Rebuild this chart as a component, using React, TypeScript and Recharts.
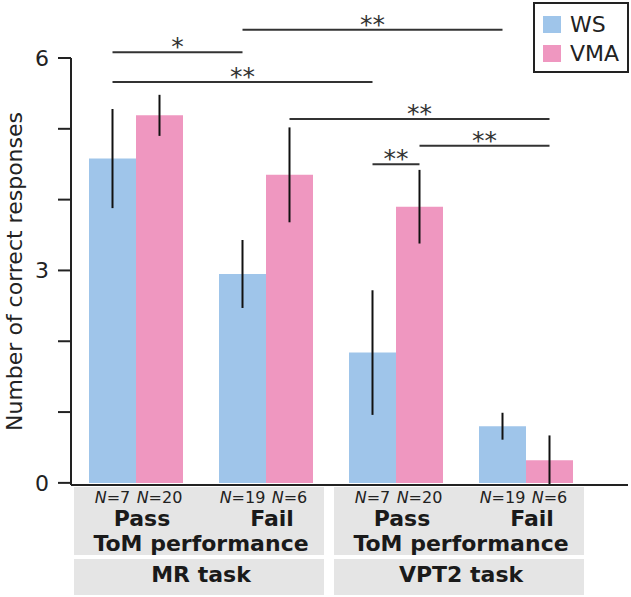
import React from 'react';
import { BarChart, Bar, XAxis, YAxis, ErrorBar, ReferenceLine, Legend } from 'recharts';

// ---- data ----
const groups = ['Pass', 'Fail', 'Pass', 'Fail'];
const tasks = ['MR task', 'VPT2 task'];
const wsMeans = [4.58, 2.95, 1.84, 0.8];
const wsErrs = [0.7, 0.48, 0.88, 0.19];
const vmaMeans = [5.19, 4.35, 3.9, 0.32];
const vmaErrs = [0.29, 0.67, 0.52, 0.35];
const wsN = [7, 19, 7, 19];
const vmaN = [20, 6, 20, 6];
const yTicks = [0, 1, 2, 3, 4, 5, 6];
const yTickLabels = ['0', '', '', '3', '', '', '6'];
const seriesNames = ['WS', 'VMA'];
const tomLabel = 'ToM performance';
const yLabel = 'Number of correct responses';

// significance brackets: [group, series(0=WS,1=VMA)] -> [group, series], level, stars
const sigFrom = [[0, 0], [1, 0], [0, 0], [1, 1], [2, 1], [2, 0]];
const sigTo = [[1, 0], [3, 0], [2, 0], [3, 1], [3, 1], [2, 1]];
const sigLevels = [6.08, 6.4, 5.66, 5.14, 4.76, 4.5];
const sigStars = ['*', '**', '**', '**', '**', '**'];

// ---- layout constants ----
const BAND = 130;
const GAP = 18;
const BAR = 47;
const FONT = 'DejaVu Sans';
const WS_COLOR = '#9fc5ea';
const VMA_COLOR = '#ef97c0';

const chartData = groups.map((g, i) => ({
  group: g,
  key: `${g}-${i}`,
  ws: wsMeans[i],
  wsErr: wsErrs[i],
  vma: vmaMeans[i],
  vmaErr: vmaErrs[i],
  wsN: wsN[i],
  vmaN: vmaN[i],
  task: tasks[Math.floor(i / 2)],
}));

// offset of a series' bar centre from its category centre
const seriesOffset = (s: number) => (s === 0 ? -BAR / 2 : BAR / 2);

const CatTick = (props: any) => {
  const { x, y, index } = props;
  const row = chartData[index];
  const isFirst = index % 2 === 0;
  const half = BAND / 2;
  return (
    <g fontFamily={FONT}>
      {isFirst && (
        <>
          <rect x={x - half + 3} y={y + 2} width={2 * BAND - 10} height={68} fill="#e5e5e5" />
          <rect x={x - half + 3} y={y + 74} width={2 * BAND - 10} height={36} fill="#e5e5e5" />
        </>
      )}
      <text x={x - BAR / 2} y={y + 18} textAnchor="middle" fontSize={16} fill="#222">
        <tspan fontStyle="italic">N</tspan>={row.wsN}
      </text>
      <text x={x + BAR / 2} y={y + 18} textAnchor="middle" fontSize={16} fill="#222">
        <tspan fontStyle="italic">N</tspan>={row.vmaN}
      </text>
      <text x={x + 6} y={y + 41} textAnchor="middle" fontSize={22} fontWeight="bold" fill="#1a1a1a">
        {row.group}
      </text>
      {!isFirst && (
        <>
          <text x={x - half} y={y + 66} textAnchor="middle" fontSize={22} fontWeight="bold" fill="#1a1a1a">
            {tomLabel}
          </text>
          <text x={x - half} y={y + 97} textAnchor="middle" fontSize={22} fontWeight="bold" fill="#1a1a1a">
            {row.task}
          </text>
        </>
      )}
    </g>
  );
};

const makeSigShape = (i: number) => (props: any) => {
  const x1 = props.x1 + seriesOffset(sigFrom[i][1]);
  const x2 = props.x2 + seriesOffset(sigTo[i][1]);
  const yy = props.y1;
  return (
    <g>
      <line x1={x1} y1={yy} x2={x2} y2={yy} stroke="#333" strokeWidth={2} />
      <text x={(x1 + x2) / 2} y={yy + 3} textAnchor="middle" fontSize={25} fontFamily={FONT} fill="#333">
        {sigStars[i]}
      </text>
    </g>
  );
};

const YLabel = (props: any) => {
  const vb = props.viewBox || {};
  const cx = vb.x + 14;
  const cy = vb.y + vb.height / 2;
  return (
    <text
      x={cx}
      y={cy}
      transform={`rotate(-90 ${cx} ${cy})`}
      textAnchor="middle"
      dominantBaseline="central"
      fontSize={22}
      fontFamily={FONT}
      fill="#222"
    >
      {yLabel}
    </text>
  );
};

const LegendBox = (props: any) => {
  const payload = [...(props.payload || [])].sort(
    (a: any, b: any) => seriesNames.indexOf(a.value) - seriesNames.indexOf(b.value)
  );
  return (
    <div
      style={{
        border: '2px solid #222',
        boxSizing: 'border-box',
        width: 96,
        height: 71,
        paddingTop: 6,
        paddingLeft: 8,
        background: '#fff',
        fontFamily: FONT,
      }}
    >
      {payload.map((p: any) => (
        <div key={p.value} style={{ display: 'flex', alignItems: 'center', height: 29 }}>
          <div style={{ width: 18, height: 17, background: p.color, marginRight: 9 }} />
          <span style={{ fontSize: 22, color: '#222', lineHeight: '29px' }}>{p.value}</span>
        </div>
      ))}
    </div>
  );
};

export default function App() {
  return (
    <div style={{ position: 'absolute', left: 0, top: 0, background: '#fff' }}>
      <BarChart
        width={631}
        height={597}
        data={chartData}
        margin={{ top: 58, right: 3, bottom: 0, left: 0 }}
        barCategoryGap={GAP}
        barGap={0}
      >
        <XAxis
          dataKey="key"
          height={112}
          interval={0}
          tickLine={false}
          tickSize={0}
          tickMargin={0}
          padding={{ left: 0, right: 37 }}
          axisLine={{ stroke: '#222', strokeWidth: 2 }}
          tick={(p: any) => <CatTick {...p} />}
        />
        <YAxis
          domain={[0, 6]}
          ticks={yTicks}
          interval={0}
          width={71}
          tickSize={13}
          tickMargin={9}
          tickFormatter={(v: number) => yTickLabels[yTicks.indexOf(v)]}
          axisLine={{ stroke: '#222', strokeWidth: 2 }}
          tickLine={{ stroke: '#222', strokeWidth: 2 }}
          tick={{ fontSize: 22, fill: '#222', fontFamily: FONT }}
          label={(p: any) => <YLabel {...p} />}
        />
        <Legend
          layout="vertical"
          align="center"
          verticalAlign="middle"
          wrapperStyle={{ top: 2, left: 533, width: 96, height: 71 }}
          content={(p: any) => <LegendBox {...p} />}
        />
        <Bar dataKey="ws" name={seriesNames[0]} fill={WS_COLOR} isAnimationActive={false}>
          <ErrorBar dataKey="wsErr" width={0} stroke="#111" strokeWidth={2} isAnimationActive={false} />
        </Bar>
        <Bar dataKey="vma" name={seriesNames[1]} fill={VMA_COLOR} isAnimationActive={false}>
          <ErrorBar dataKey="vmaErr" width={0} stroke="#111" strokeWidth={2} isAnimationActive={false} />
        </Bar>
        {sigLevels.map((lvl, i) => (
          <ReferenceLine
            key={i}
            ifOverflow="visible"
            segment={[
              { x: chartData[sigFrom[i][0]].key, y: lvl },
              { x: chartData[sigTo[i][0]].key, y: lvl },
            ]}
            shape={makeSigShape(i)}
          />
        ))}
      </BarChart>
    </div>
  );
}
